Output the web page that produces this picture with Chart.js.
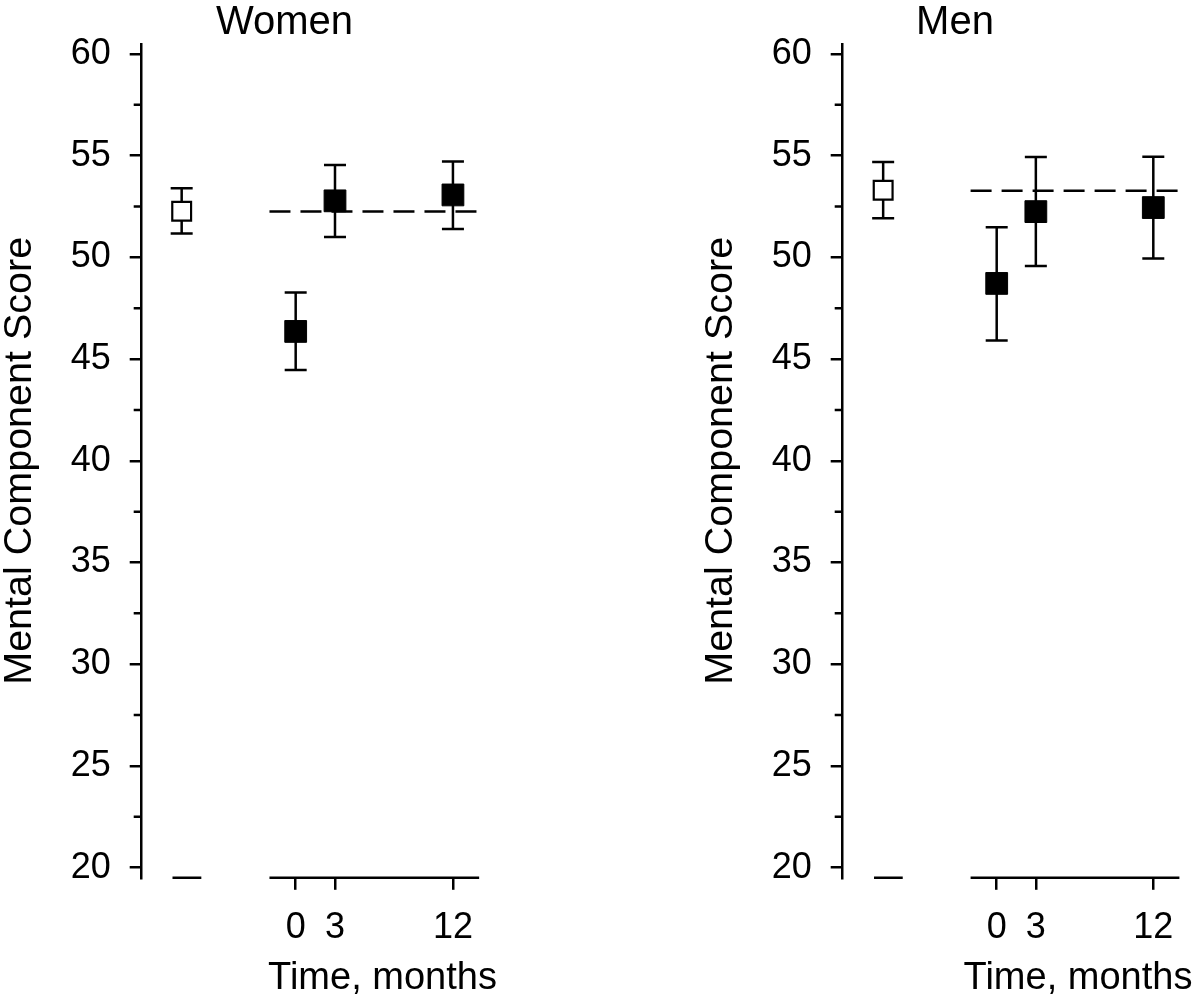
<!DOCTYPE html>
<html>
<head>
<meta charset="utf-8">
<script src="https://cdn.jsdelivr.net/npm/chart.js@4.4.1/dist/chart.umd.min.js"></script>
<style>
  html, body { margin: 0; padding: 0; background: #fff; overflow: hidden; }
  #wrap { position: relative; width: 1200px; height: 1003px; overflow: hidden; }
  canvas { position: absolute; top: 0; }
</style>
</head>
<body>
<div id="wrap">
  <canvas id="women" width="640" height="1003" style="left:0px"></canvas>
  <canvas id="men" width="640" height="1003" style="left:701px"></canvas>
</div>
<script>
// follow-up times (months) and y axis ticks
const timeLabels = [0, 3, 12];
const yTicks = [20, 25, 30, 35, 40, 45, 50, 55, 60];
const yMinorTicks = [22.5, 27.5, 32.5, 37.5, 42.5, 47.5, 52.5, 57.5];
const xAxisSegments = [[-9.4, -7.2], [-2, 14]];
const refX = -8.7;          // where the reference group sits
const refLineX = [-2, 14];  // span of the dashed reference line

// Women
const womenRefMean = [52.27];
const womenRefLow = [51.18];
const womenRefHigh = [53.4];
const womenMean = [46.36, 52.78, 53.07];
const womenLow = [44.46, 51.0, 51.4];
const womenHigh = [48.27, 54.54, 54.71];
const womenRefLine = 52.25;

// Men
const menRefMean = [53.3];
const menRefLow = [51.92];
const menRefHigh = [54.69];
const menMean = [48.72, 52.25, 52.45];
const menLow = [45.92, 49.58, 49.94];
const menHigh = [51.48, 54.94, 54.95];
const menRefLine = 53.28;

const FONT = "'Liberation Sans', Arial, Helvetica, sans-serif";
const LW = 2.5;

const errorBars = {
  id: 'errorBars',
  beforeDatasetsDraw(chart) {
    const { ctx, scales: { x, y } } = chart;
    ctx.save();
    ctx.strokeStyle = '#000';
    ctx.lineWidth = LW;
    chart.data.datasets.forEach(ds => {
      if (!ds.errLow) return;
      ds.data.forEach((p, i) => {
        const px = x.getPixelForValue(p.x);
        const lo = y.getPixelForValue(ds.errLow[i]);
        const hi = y.getPixelForValue(ds.errHigh[i]);
        ctx.beginPath();
        ctx.moveTo(px, lo); ctx.lineTo(px, hi);
        ctx.moveTo(px - 11, lo); ctx.lineTo(px + 11, lo);
        ctx.moveTo(px - 11, hi); ctx.lineTo(px + 11, hi);
        ctx.stroke();
      });
    });
    ctx.restore();
  }
};

// broken x axis, minor y ticks and the panel title
const panelDecor = {
  id: 'panelDecor',
  afterDraw(chart, args, opts) {
    const { ctx, chartArea, scales: { x, y } } = chart;
    ctx.save();
    ctx.strokeStyle = '#000';
    ctx.lineWidth = LW;
    ctx.beginPath();
    xAxisSegments.forEach(([a, b]) => {
      ctx.moveTo(x.getPixelForValue(a), chartArea.bottom);
      ctx.lineTo(x.getPixelForValue(b), chartArea.bottom);
    });
    yMinorTicks.forEach(v => {
      const py = y.getPixelForValue(v);
      ctx.moveTo(chartArea.left - 8, py);
      ctx.lineTo(chartArea.left, py);
    });
    ctx.stroke();
    ctx.fillStyle = '#000';
    ctx.font = '40px ' + FONT;
    ctx.textAlign = 'center';
    ctx.textBaseline = 'alphabetic';
    ctx.fillText(opts.title, chartArea.left + opts.titleOffset, 34);
    ctx.restore();
  }
};

function makePanel(id, title, titleOffset, xMin, xMax, padRight, refMean, refLow, refHigh, mean, low, high, refLine) {
  new Chart(document.getElementById(id), {
    type: 'scatter',
    data: {
      datasets: [
        {
          data: timeLabels.map((t, i) => ({ x: t, y: mean[i] })),
          errLow: low, errHigh: high,
          pointStyle: 'rect', pointRadius: 15.4,
          backgroundColor: '#000', borderColor: '#000', borderWidth: 1
        },
        {
          data: [{ x: refX, y: refMean[0] }],
          errLow: refLow, errHigh: refHigh,
          pointStyle: 'rect', pointRadius: 13.3,
          backgroundColor: '#fff', borderColor: '#000', borderWidth: 2.2
        },
        {
          data: refLineX.map(v => ({ x: v, y: refLine })),
          showLine: true, pointRadius: 0,
          borderColor: '#000', borderWidth: LW, borderDash: [21, 10]
        }
      ]
    },
    options: {
      responsive: false,
      animation: false,
      events: [],
      layout: { padding: { top: 43.8, right: padRight, left: 0, bottom: 0 } },
      plugins: {
        legend: { display: false },
        tooltip: { enabled: false },
        panelDecor: { title: title, titleOffset: titleOffset }
      },
      scales: {
        x: {
          type: 'linear', min: xMin, max: xMax,
          afterBuildTicks: s => { s.ticks = timeLabels.map(v => ({ value: v })); },
          afterFit: s => { s.height = 1003 - 877.8; },
          ticks: { font: { size: 36, family: FONT }, color: '#000', padding: 17, autoSkip: false, maxRotation: 0 },
          grid: { drawOnChartArea: false, drawTicks: true, tickLength: 12, color: '#000', lineWidth: LW },
          border: { display: false },
          title: {
            display: true, text: 'Time, months', color: '#000',
            font: { size: 38, family: FONT, lineHeight: 1 },
            padding: { top: 0, bottom: 5.6 }
          }
        },
        y: {
          min: 19.5, max: 60.5,
          afterBuildTicks: s => { s.ticks = yTicks.map(v => ({ value: v })); },
          afterFit: s => { s.width = 141.7; },
          ticks: { font: { size: 36, family: FONT }, color: '#000', padding: 19 },
          grid: { drawOnChartArea: false, drawTicks: true, tickLength: 12, color: '#000', lineWidth: LW },
          border: { display: true, color: '#000', width: LW },
          title: {
            display: true, text: 'Mental Component Score', color: '#000',
            font: { size: 39.5, family: FONT, lineHeight: 1 },
            padding: 0
          }
        }
      }
    },
    plugins: [errorBars, panelDecor]
  });
}

makePanel('women', 'Women', 142.8, -11.75, 25.0, 16.7,
  womenRefMean, womenRefLow, womenRefHigh, womenMean, womenLow, womenHigh, womenRefLine);
makePanel('men', 'Men', 112.3, -11.8, 24.26, 27.7,
  menRefMean, menRefLow, menRefHigh, menMean, menLow, menHigh, menRefLine);
</script>
</body>
</html>
